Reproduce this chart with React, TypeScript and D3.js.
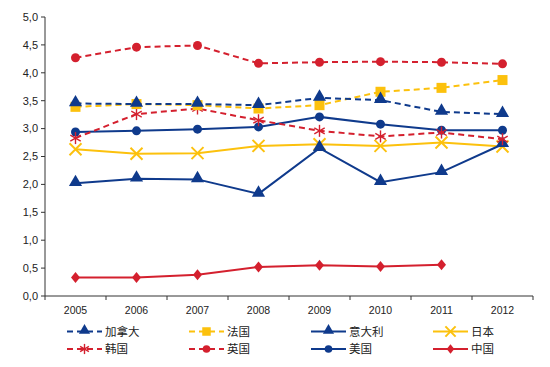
import React from "react";
import * as d3 from "d3";

const years = ["2005", "2006", "2007", "2008", "2009", "2010", "2011", "2012"];
const yTicks = [0, 0.5, 1, 1.5, 2, 2.5, 3, 3.5, 4, 4.5, 5];

const canada = [3.45, 3.44, 3.44, 3.42, 3.55, 3.51, 3.3, 3.26];
const france = [3.39, 3.44, 3.42, 3.36, 3.42, 3.66, 3.73, 3.87];
const italy = [2.02, 2.1, 2.09, 1.83, 2.65, 2.04, 2.22, 2.72];
const japan = [2.63, 2.55, 2.56, 2.69, 2.72, 2.69, 2.75, 2.68];
const korea = [2.83, 3.26, 3.36, 3.15, 2.96, 2.86, 2.93, 2.81];
const uk = [4.27, 4.46, 4.49, 4.17, 4.19, 4.2, 4.19, 4.16];
const usa = [2.94, 2.96, 2.99, 3.03, 3.21, 3.08, 2.97, 2.97];
const china = [0.33, 0.33, 0.38, 0.52, 0.55, 0.53, 0.56];

const BLUE = "#0f3a8c";
const RED = "#d4202e";
const YELLOW = "#fcc10d";

type Marker = "triangle" | "square" | "x" | "asterisk" | "circle" | "diamond";
const seriesList: { name: string; values: number[]; color: string; dashed: boolean; marker: Marker }[] = [
  { name: "日本", values: japan, color: YELLOW, dashed: false, marker: "x" },
  { name: "中国", values: china, color: RED, dashed: false, marker: "diamond" },
  { name: "美国", values: usa, color: BLUE, dashed: false, marker: "circle" },
  { name: "意大利", values: italy, color: BLUE, dashed: false, marker: "triangle" },
  { name: "韩国", values: korea, color: RED, dashed: true, marker: "asterisk" },
  { name: "法国", values: france, color: YELLOW, dashed: true, marker: "square" },
  { name: "加拿大", values: canada, color: BLUE, dashed: true, marker: "triangle" },
  { name: "英国", values: uk, color: RED, dashed: true, marker: "circle" },
];
const legendOrder = ["加拿大", "法国", "意大利", "日本", "韩国", "英国", "美国", "中国"];

function MarkerShape({ type, x, y, color, size = 1 }: { type: Marker; x: number; y: number; color: string; size?: number }) {
  const s = size;
  switch (type) {
    case "triangle":
      return <path d={d3.symbol(d3.symbolTriangle, 75 * s * s)()!} transform={`translate(${x},${y - 1})`} fill={color} />;
    case "square":
      return <rect x={x - 5 * s} y={y - 5 * s} width={10 * s} height={10 * s} fill={color} />;
    case "circle":
      return <circle cx={x} cy={y} r={4.5 * s} fill={color} />;
    case "diamond":
      return <path d={`M${x},${y - 5.5 * s}L${x + 4.5 * s},${y}L${x},${y + 5.5 * s}L${x - 4.5 * s},${y}Z`} fill={color} />;
    case "x":
      return (
        <g stroke={color} strokeWidth={2}>
          <line x1={x - 6 * s} y1={y - 6 * s} x2={x + 6 * s} y2={y + 6 * s} />
          <line x1={x - 6 * s} y1={y + 6 * s} x2={x + 6 * s} y2={y - 6 * s} />
        </g>
      );
    case "asterisk":
      return (
        <g stroke={color} strokeWidth={1.4}>
          <line x1={x} y1={y - 6 * s} x2={x} y2={y + 6 * s} />
          <line x1={x - 5.2 * s} y1={y - 3 * s} x2={x + 5.2 * s} y2={y + 3 * s} />
          <line x1={x - 5.2 * s} y1={y + 3 * s} x2={x + 5.2 * s} y2={y - 3 * s} />
        </g>
      );
  }
}

export default function App() {
  const W = 550, H = 367;
  const x0 = 45, x1 = 533, yTop = 17, yBot = 296;
  const x = d3.scaleBand<string>().domain(years).range([x0, x0 + 61 * 8]);
  const y = d3.scaleLinear().domain([0, 5]).range([yBot, yTop]);
  const cx = (i: number) => x(years[i])! + x.bandwidth() / 2;
  const line = d3.line<number>().x((_, i) => cx(i)).y((v) => y(v));
  const font = "'Liberation Sans', Arial, sans-serif";
  const cjk = "'Noto Sans CJK SC', sans-serif";
  const legCols = [67, 189, 311, 433];
  const legRows = [331.5, 349];

  return (
    <svg width={W} height={H} style={{ position: "absolute", left: 0, top: 0 }}>
      <rect width={W} height={H} fill="#fff" />
      <g stroke="#333" strokeWidth={1}>
        <line x1={x0} y1={yTop} x2={x0} y2={yBot} />
        <line x1={x0} y1={yBot} x2={x1} y2={yBot} />
        {yTicks.map((t) => (
          <line key={t} x1={x0 - 4} x2={x0} y1={y(t)} y2={y(t)} />
        ))}
        {d3.range(9).map((i) => (
          <line key={i} x1={x0 + i * x.step()} x2={x0 + i * x.step()} y1={yBot} y2={yBot + 4} />
        ))}
      </g>
      {yTicks.map((t) => (
        <text key={t} x={x0 - 7} y={y(t)} dy="0.35em" textAnchor="end" fontSize={11} fontFamily={font} fill="#222">
          {t.toFixed(1).replace(".", ",")}
        </text>
      ))}
      {years.map((yr, i) => (
        <text key={yr} x={cx(i)} y={314} textAnchor="middle" fontSize={10.5} fontFamily={font} fill="#222">
          {yr}
        </text>
      ))}
      {seriesList.map((s) => (
        <g key={s.name}>
          <path d={line(s.values)!} fill="none" stroke={s.color} strokeWidth={2} strokeDasharray={s.dashed ? "6,4" : undefined} />
          {s.values.map((v, i) => (
            <MarkerShape key={i} type={s.marker} x={cx(i)} y={y(v)} color={s.color} />
          ))}
        </g>
      ))}
      {legendOrder.map((name, k) => {
        const s = seriesList.find((d) => d.name === name)!;
        const lx = legCols[k % 4];
        const ly = legRows[Math.floor(k / 4)];
        return (
          <g key={name}>
            <line x1={lx} x2={lx + 35} y1={ly} y2={ly} stroke={s.color} strokeWidth={2.2} strokeDasharray={s.dashed ? "6,4" : undefined} />
            <MarkerShape type={s.marker} x={lx + 17.5} y={ly} color={s.color} size={0.85} />
            <text x={lx + 38} y={ly} dy="0.36em" fontSize={11.5} fontFamily={cjk} fill="#222">
              {name}
            </text>
          </g>
        );
      })}
    </svg>
  );
}
